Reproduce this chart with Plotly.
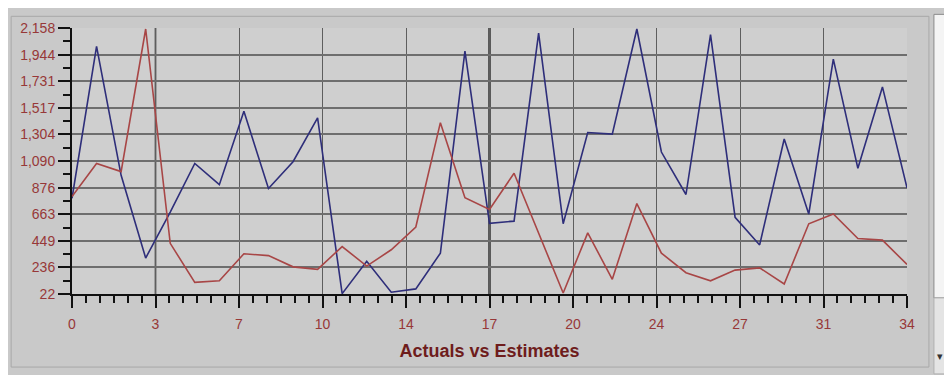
import plotly.graph_objects as go

# ---- data ----
points = list(range(35))
actuals = [790, 2010, 975, 311, 680, 1070, 900, 1489, 869, 1084, 1437, 25, 285, 36, 63,
           350, 1973, 590, 607, 2117, 586, 1319, 1306, 2150, 1162, 821, 2105, 638, 416,
           1267, 664, 1908, 1031, 1685, 874]
estimates = [805, 1070, 1005, 2150, 429, 115, 128, 345, 330, 240, 220, 403, 246, 377, 560,
             1398, 795, 700, 992, 507, 30, 513, 140, 748, 350, 193, 128, 214, 232,
             102, 586, 664, 468, 455, 259]

x_tick_vals = [0, 3.4, 6.8, 10.2, 13.6, 17, 20.4, 23.8, 27.2, 30.6, 34]
x_tick_text = ["0", "3", "7", "10", "14", "17", "20", "24", "27", "31", "34"]
y_tick_vals = [22, 235.6, 449.2, 662.8, 876.4, 1090, 1303.6, 1517.2, 1730.8, 1944.4, 2158]
y_tick_text = ["22", "236", "449", "663", "876", "1,090", "1,304", "1,517", "1,731", "1,944", "2,158"]
title_text = "Actuals vs Estimates"
dark_grid_x = [3.4, 17]

# page offset: the browser body has an 8px margin
OFF = 8
W, H = 952 - OFF, 375 - OFF
L, R, T, B = 70 - OFF, 45, 21 - OFF, 81
pw = W - L - R
ph = H - T - B


def px(xp):  # page pixel x -> paper
    return (xp - OFF - L) / pw


def py(yp):  # page pixel y -> paper
    return 1 - (yp - OFF - T) / ph


label_color = "#973838"
label_font = dict(family="Liberation Sans, Arial, sans-serif", size=14, color=label_color)

fig = go.Figure()
fig.add_trace(go.Scatter(x=points, y=actuals, mode="lines",
                         line=dict(color="#2e2e7a", width=1.6), showlegend=False))
fig.add_trace(go.Scatter(x=points, y=estimates, mode="lines",
                         line=dict(color="#a84646", width=1.6), showlegend=False))

shapes = [
    dict(type="line", xref="x", yref="paper", x0=xv, x1=xv, y0=0, y1=1,
         line=dict(color="#333333", width=2.5 if xv == 17 else 1.6), layer="below")
    for xv in dark_grid_x
]
shapes += [
    # panel frame
    dict(type="rect", xref="paper", yref="paper", x0=px(9), x1=px(929), y0=py(9), y1=py(369),
         line=dict(color="#a8a8a8", width=1)),
    # scrollbar strip
    dict(type="rect", xref="paper", yref="paper", x0=px(934), x1=px(953), y0=py(7), y1=py(298),
         fillcolor="#f4f4f4", line=dict(color="#8a8a8a", width=1)),
    dict(type="rect", xref="paper", yref="paper", x0=px(934), x1=px(953), y0=py(298), y1=py(376),
         fillcolor="#e4e4e4", line=dict(color="#b0b0b0", width=1)),
]

fig.update_layout(
    width=W, height=H,
    margin=dict(l=L, r=R, t=T, b=B),
    paper_bgcolor="#c9c9c9",
    plot_bgcolor="#cfcfcf",
    font=label_font,
    xaxis=dict(
        range=[0, 34], tickmode="array", tickvals=x_tick_vals, ticktext=x_tick_text,
        showgrid=True, gridcolor="#5e5e5e", gridwidth=1,
        showline=True, linecolor="#111111", linewidth=2,
        ticks="outside", ticklen=12, tickcolor="#111111", tickwidth=1.5,
        tickfont=label_font, ticklabelstandoff=4,
        zeroline=False,
        minor=dict(tickmode="linear", tick0=0, dtick=3.4 / 6, ticks="outside",
                   ticklen=7, tickcolor="#111111", tickwidth=1.5, showgrid=False),
        title=dict(text="<b>" + title_text + "</b>",
                   font=dict(family="Liberation Sans, Arial, sans-serif", size=18, color="#6e1c1c"),
                   standoff=14),
    ),
    yaxis=dict(
        range=[22, 2158], tickmode="array", tickvals=y_tick_vals, ticktext=y_tick_text,
        showgrid=True, gridcolor="#6e6e6e", gridwidth=1.6,
        showline=True, linecolor="#111111", linewidth=2,
        ticks="outside", ticklen=12, tickcolor="#111111", tickwidth=1.5,
        tickfont=label_font,
        zeroline=False,
        minor=dict(tickmode="linear", tick0=22, dtick=213.6 / 2, ticks="outside",
                   ticklen=7, tickcolor="#111111", tickwidth=1.5, showgrid=False),
    ),
    shapes=shapes,
    annotations=[
        dict(text="▾", xref="paper", yref="paper", x=px(945), y=py(366), showarrow=False,
             font=dict(size=11, color="#333333")),
    ],
)

fig.write_html("out.html")
